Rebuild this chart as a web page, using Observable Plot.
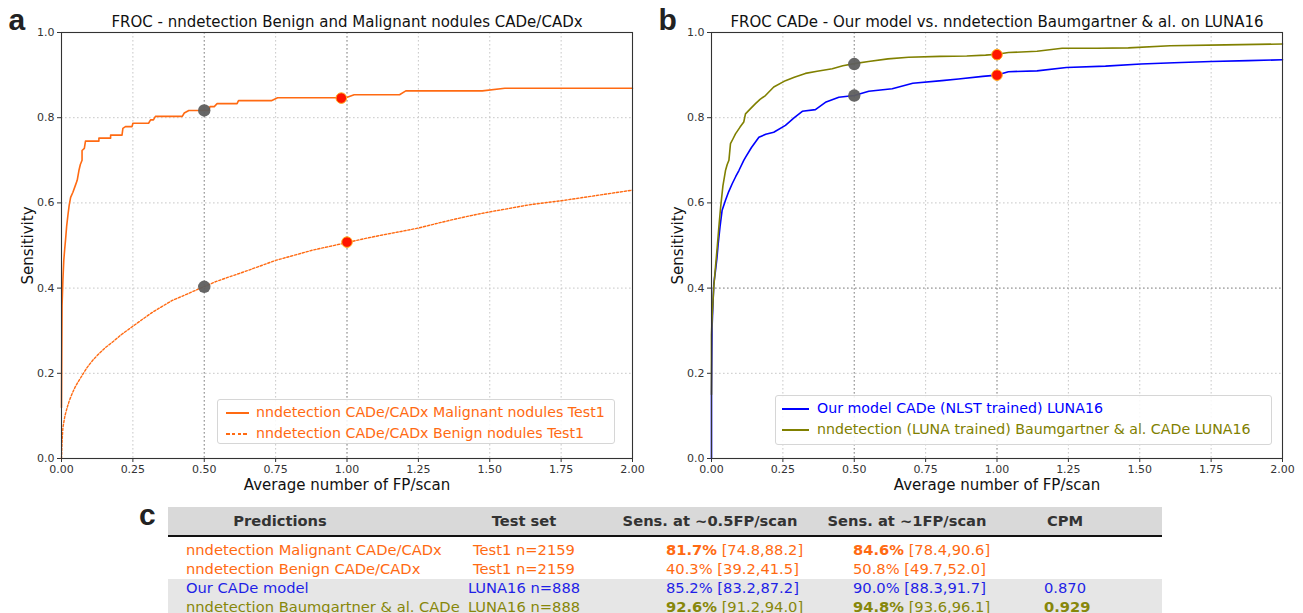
<!DOCTYPE html>
<html><head><meta charset="utf-8">
<script src="https://cdn.jsdelivr.net/npm/d3@7"></script>
<script src="https://cdn.jsdelivr.net/npm/@observablehq/plot@0.6"></script>
<style>
body{margin:0;background:#fff;}
#root{position:relative;width:1303px;height:613px;overflow:hidden;font-family:"DejaVu Sans",sans-serif;}
.panel{position:absolute;top:0;}
.legend{position:absolute;border:1px solid #d6d6d6;border-radius:3px;background:rgba(255,255,255,0.85);box-sizing:border-box;font-size:14.2px;padding-top:2px;}
.lrow{height:21px;line-height:21px;white-space:nowrap;display:flex;align-items:center;}
.lsw{display:inline-block;height:2px;}
.tcell{position:absolute;white-space:nowrap;font-size:14.7px;line-height:18px;}
.band{position:absolute;}
</style></head><body><div id="root"></div>
<script>
// ---------- data ----------
const xTicks = [0, 0.25, 0.5, 0.75, 1, 1.25, 1.5, 1.75, 2];
const yTicks = [0, 0.2, 0.4, 0.6, 0.8, 1];
const refFP = [0.5, 1.0];
const refSensB = [0.4];

// Panel a: malignant (solid) and benign (dashed)
const malFP = [0, 0.001, 0.002, 0.005, 0.008, 0.011, 0.014, 0.018, 0.023, 0.027, 0.032, 0.040, 0.048, 0.055, 0.061, 0.066, 0.072, 0.072, 0.080, 0.084, 0.131, 0.131, 0.172, 0.172, 0.212, 0.215, 0.224, 0.247, 0.250, 0.305, 0.312, 0.322, 0.329, 0.423, 0.430, 0.446, 0.516, 0.520, 0.535, 0.545, 0.615, 0.620, 0.735, 0.757, 0.996, 1.025, 1.184, 1.206, 1.474, 1.553, 2.0];
const malSens = [0.12, 0.25, 0.36, 0.42, 0.465, 0.49, 0.512, 0.545, 0.574, 0.595, 0.613, 0.625, 0.640, 0.653, 0.676, 0.690, 0.700, 0.723, 0.728, 0.745, 0.745, 0.752, 0.752, 0.759, 0.759, 0.775, 0.779, 0.779, 0.787, 0.787, 0.795, 0.795, 0.803, 0.803, 0.811, 0.817, 0.817, 0.826, 0.826, 0.833, 0.833, 0.840, 0.840, 0.847, 0.847, 0.854, 0.854, 0.863, 0.863, 0.869, 0.869];
const benFP = [0, 0.002, 0.005, 0.012, 0.020, 0.028, 0.037, 0.048, 0.061, 0.075, 0.090, 0.110, 0.131, 0.155, 0.178, 0.21, 0.245, 0.28, 0.318, 0.35, 0.388, 0.44, 0.494, 0.54, 0.586, 0.63, 0.68, 0.75, 0.82, 0.879, 0.94, 1.0, 1.06, 1.126, 1.19, 1.25, 1.31, 1.372, 1.44, 1.5, 1.56, 1.633, 1.70, 1.75, 1.82, 1.9, 2.0];
const benSens = [0, 0.04, 0.073, 0.10, 0.12, 0.137, 0.152, 0.168, 0.183, 0.198, 0.214, 0.231, 0.246, 0.261, 0.273, 0.291, 0.308, 0.325, 0.343, 0.356, 0.371, 0.386, 0.402, 0.415, 0.426, 0.436, 0.448, 0.465, 0.478, 0.489, 0.498, 0.507, 0.516, 0.525, 0.533, 0.541, 0.551, 0.561, 0.571, 0.579, 0.586, 0.595, 0.601, 0.605, 0.612, 0.620, 0.630];
const opA_FP   = [0.5, 0.5, 0.98, 1.0];
const opA_Sens = [0.817, 0.403, 0.846, 0.508];
const opA_Kind = ["half", "half", "one", "one"];

// Panel b: our model (blue) and nnDetection Baumgartner (olive)
const bluFP = [0, 0, 0.002, 0.005, 0.008, 0.014, 0.019, 0.0235, 0.030, 0.037, 0.049, 0.060, 0.0725, 0.085, 0.096, 0.113, 0.119, 0.14, 0.166, 0.19, 0.218, 0.259, 0.29, 0.318, 0.364, 0.399, 0.446, 0.5, 0.551, 0.633, 0.705, 0.807, 0.865, 0.95, 1.0, 1.04, 1.14, 1.243, 1.38, 1.504, 1.62, 1.75, 1.88, 2.0];
const bluSens = [0, 0.15, 0.308, 0.36, 0.41, 0.441, 0.47, 0.504, 0.545, 0.582, 0.606, 0.626, 0.645, 0.662, 0.676, 0.70, 0.707, 0.73, 0.754, 0.761, 0.766, 0.782, 0.80, 0.815, 0.819, 0.836, 0.848, 0.852, 0.862, 0.868, 0.881, 0.887, 0.891, 0.897, 0.900, 0.908, 0.910, 0.918, 0.921, 0.926, 0.929, 0.932, 0.934, 0.936];
const oliFP = [0, 0, 0.002, 0.008, 0.014, 0.020, 0.026, 0.032, 0.040, 0.049, 0.055, 0.061, 0.0665, 0.075, 0.084, 0.100, 0.113, 0.119, 0.135, 0.154, 0.170, 0.189, 0.218, 0.259, 0.29, 0.329, 0.37, 0.423, 0.46, 0.5, 0.55, 0.618, 0.69, 0.80, 0.894, 0.96, 1.0, 1.04, 1.14, 1.228, 1.35, 1.46, 1.606, 1.8, 2.0];
const oliSens = [0.15, 0.29, 0.33, 0.403, 0.45, 0.496, 0.545, 0.59, 0.64, 0.676, 0.69, 0.70, 0.739, 0.75, 0.762, 0.778, 0.79, 0.809, 0.82, 0.833, 0.843, 0.852, 0.872, 0.887, 0.895, 0.904, 0.909, 0.915, 0.922, 0.927, 0.932, 0.938, 0.942, 0.944, 0.945, 0.947, 0.949, 0.953, 0.956, 0.963, 0.963, 0.964, 0.969, 0.971, 0.973];
const opB_FP   = [0.5, 0.5, 1.0, 1.0];
const opB_Sens = [0.852, 0.926, 0.900, 0.948];
const opB_Kind = ["half", "half", "one", "one"];

const titleA = "FROC - nndetection Benign and Malignant nodules CADe/CADx";
const titleB = "FROC CADe - Our model vs. nndetection Baumgartner & al. on LUNA16";
const legendA = ["nndetection CADe/CADx Malignant nodules Test1", "nndetection CADe/CADx Benign nodules Test1"];
const legendB = ["Our model CADe (NLST trained) LUNA16", "nndetection (LUNA trained) Baumgartner & al. CADe LUNA16"];

// Table c
const tableHeaders = ["Predictions", "Test set", "Sens. at ~0.5FP/scan", "Sens. at ~1FP/scan", "CPM"];
const rowNames = ["nndetection Malignant CADe/CADx", "nndetection Benign CADe/CADx", "Our CADe model", "nndetection Baumgartner & al. CADe"];
const rowTestSets = ["Test1 n=2159", "Test1 n=2159", "LUNA16 n=888", "LUNA16 n=888"];
const sens05 = ["81.7%", "40.3%", "85.2%", "92.6%"];
const ci05 = ["[74.8,88.2]", "[39.2,41.5]", "[83.2,87.2]", "[91.2,94.0]"];
const sens1 = ["84.6%", "50.8%", "90.0%", "94.8%"];
const ci1 = ["[78.4,90.6]", "[49.7,52.0]", "[88.3,91.7]", "[93.6,96.1]"];
const cpm = ["", "", "0.870", "0.929"];
const bold05 = [true, false, false, true];
const bold1 = [true, false, false, true];
const boldCpm = [false, false, false, true];

// ---------- styles ----------
const ORANGE = "#ff6a12", BLUE = "#0000ff", OLIVE = "#808000";
const rowColors = ["#ff6a12", "#ff6a12", "#1f1fe6", "#87870a"];

const zip = (xs, ys) => xs.map((x, i) => ({x, y: ys[i]}));

function makePanel(o) {
  const ops = o.opFP.map((x, i) => ({x, y: o.opSens[i], k: o.opKind[i]}));
  return Plot.plot({
    width: o.width, height: 500,
    marginTop: 32, marginLeft: 61, marginRight: o.marginRight, marginBottom: 42,
    x: {domain: [0, 2]}, y: {domain: [0, 1]},
    style: {fontFamily: "DejaVu Sans", fontSize: "11px", color: "#333", background: "transparent", overflow: "visible"},
    marks: [
      Plot.gridX(xTicks, {stroke: "#c2c2c2", strokeOpacity: 1, strokeDasharray: "1.6,2.4", strokeWidth: 0.9}),
      Plot.gridY(yTicks, {stroke: "#c2c2c2", strokeOpacity: 1, strokeDasharray: "1.6,2.4", strokeWidth: 0.9}),
      Plot.ruleX(refFP, {stroke: "#8a8a8a", strokeDasharray: "1.6,2.4", strokeWidth: 0.9}),
      Plot.ruleY(o.refSens, {stroke: "#8a8a8a", strokeDasharray: "1.6,2.4", strokeWidth: 0.9}),
      Plot.axisX(xTicks, {tickFormat: d3.format(".2f"), tickSize: 4, tickPadding: 3, label: null, fontSize: 11}),
      Plot.axisY(yTicks, {tickFormat: d3.format(".1f"), tickSize: 4, tickPadding: 3, label: null, fontSize: 11}),
      ...o.lines,
      Plot.dot(ops.filter(d => d.k === "half"), {x: "x", y: "y", r: 6.2, fill: "#5e5e5e", fillOpacity: 0.95}),
      Plot.dot(ops.filter(d => d.k === "one"), {x: "x", y: "y", r: 5.3, fill: "#ff1400", stroke: "#ffb020", strokeWidth: 1}),
      Plot.frame({stroke: "#333", strokeWidth: 1.1}),
      Plot.text([o.title], {text: d => d, frameAnchor: "top", dy: -6, lineAnchor: "bottom", textAnchor: "middle", fontSize: 15, fill: "#111"}),
      Plot.text(["Average number of FP/scan"], {text: d => d, frameAnchor: "bottom", dy: 31, lineAnchor: "bottom", textAnchor: "middle", fontSize: 15, fill: "#111"}),
      Plot.text(["Sensitivity"], {text: d => d, frameAnchor: "left", dx: -28.5, rotate: -90, lineAnchor: "bottom", textAnchor: "middle", fontSize: 15, fill: "#111"}),
      Plot.text([o.letter], {text: d => d, frameAnchor: "top-left", dx: -53, dy: -3, lineAnchor: "bottom", textAnchor: "start", fontSize: 30, fontWeight: "bold", fontFamily: "Liberation Sans", fill: "#222"})
    ]
  });
}

const root = document.getElementById("root");

const plotA = makePanel({
  width: 650, marginRight: 18, title: titleA, letter: "a", refSens: [],
  opFP: opA_FP, opSens: opA_Sens, opKind: opA_Kind,
  lines: [
    Plot.line(zip(benFP, benSens), {x: "x", y: "y", stroke: ORANGE, strokeWidth: 1.4, strokeDasharray: "2.2,1.8"}),
    Plot.line(zip(malFP, malSens), {x: "x", y: "y", stroke: ORANGE, strokeWidth: 1.6})
  ]
});
plotA.classList.add("panel"); plotA.style.left = "0px";
root.appendChild(plotA);

const plotB = makePanel({
  width: 653, marginRight: 21, title: titleB, letter: "b", refSens: refSensB,
  opFP: opB_FP, opSens: opB_Sens, opKind: opB_Kind,
  lines: [
    Plot.line(zip(bluFP, bluSens), {x: "x", y: "y", stroke: BLUE, strokeWidth: 1.6}),
    Plot.line(zip(oliFP, oliSens), {x: "x", y: "y", stroke: OLIVE, strokeWidth: 1.6})
  ]
});
plotB.classList.add("panel"); plotB.style.left = "650px";
root.appendChild(plotB);

// ---------- legends ----------
function legend(left, top, width, height, labels, colors, dashes, sw, gap, pad) {
  const box = document.createElement("div");
  box.className = "legend";
  Object.assign(box.style, {left: left + "px", top: top + "px", width: width + "px", height: height + "px"});
  labels.forEach((lab, i) => {
    const row = document.createElement("div");
    row.className = "lrow";
    const s = document.createElement("span");
    s.className = "lsw";
    Object.assign(s.style, {width: sw + "px", marginLeft: pad + "px", marginRight: gap + "px",
      background: dashes[i]
        ? `repeating-linear-gradient(to right, ${colors[i]} 0 3.6px, transparent 3.6px 5.8px)`
        : colors[i]});
    const t = document.createElement("span");
    t.textContent = lab; t.style.color = colors[i];
    row.appendChild(s); row.appendChild(t);
    box.appendChild(row);
  });
  root.appendChild(box);
}
legend(217, 399, 398, 45, legendA, [ORANGE, ORANGE], [false, true], 23, 7, 8);
legend(775, 395, 497, 50, legendB, [BLUE, OLIVE], [false, false], 27, 8, 6);

// ---------- table ----------
function band(left, top, width, height, bg) {
  const d = document.createElement("div");
  d.className = "band";
  Object.assign(d.style, {left: left + "px", top: top + "px", width: width + "px", height: height + "px", background: bg});
  root.appendChild(d);
}
band(168, 507, 994, 29, "#d9d9d9");
band(168, 579, 994, 34, "#e6e6e6");
band(168, 535, 994, 2, "#111");

function cell(html, x, yc, align, color, bold) {
  const d = document.createElement("div");
  d.className = "tcell";
  d.innerHTML = html;
  d.style.top = (yc - 9) + "px";
  d.style.color = color;
  if (bold) d.style.fontWeight = "bold";
  if (align === "center") { d.style.left = (x - 200) + "px"; d.style.width = "400px"; d.style.textAlign = "center"; }
  else d.style.left = x + "px";
  root.appendChild(d);
}
const headerCenters = [280, 524, 710, 907, 1065];
tableHeaders.forEach((h, i) => cell(h, headerCenters[i], 521, "center", "#333", true));
const rowY = [550, 569, 587.5, 606.5];
const esc = s => s.replace(/&/g, "&amp;");
rowNames.forEach((n, i) => {
  const c = rowColors[i];
  cell(esc(n), 186, rowY[i], "left", c, false);
  cell(rowTestSets[i], 524, rowY[i], "center", c, false);
  cell((bold05[i] ? `<b>${sens05[i]}</b>` : sens05[i]) + " " + ci05[i], 666, rowY[i], "left", c, false);
  cell((bold1[i] ? `<b>${sens1[i]}</b>` : sens1[i]) + " " + ci1[i], 853, rowY[i], "left", c, false);
  if (cpm[i]) cell(cpm[i], 1044, rowY[i], "left", c, boldCpm[i]);
});
const cl = document.createElement("div");
cl.textContent = "c";
Object.assign(cl.style, {position: "absolute", left: "139px", top: "500px", fontFamily: "Liberation Sans", fontWeight: "bold", fontSize: "30px", lineHeight: "30px", color: "#222"});
root.appendChild(cl);
</script>
</body></html>
